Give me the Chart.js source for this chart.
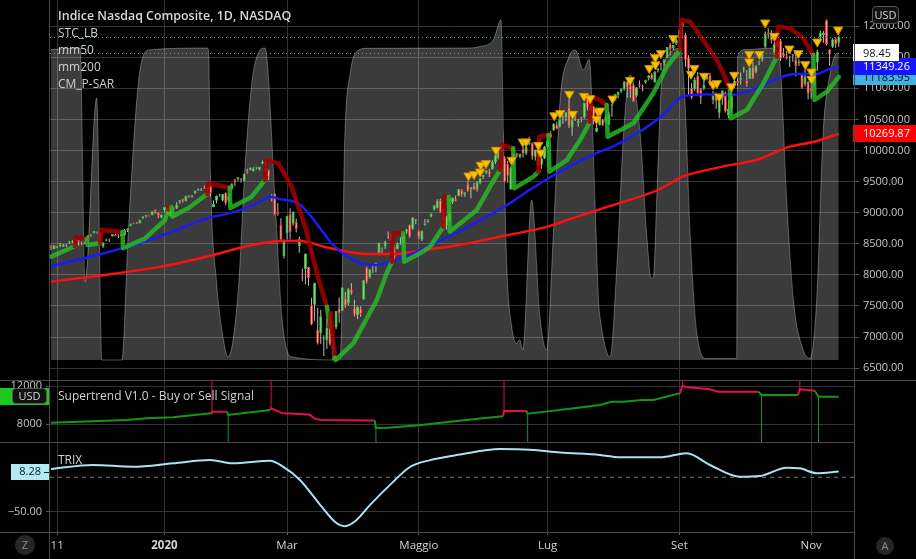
<!DOCTYPE html>
<html><head><meta charset="utf-8">
<script src="https://cdn.jsdelivr.net/npm/chart.js@4.4.1/dist/chart.umd.min.js"></script>
<style>
html,body{margin:0;padding:0;background:#000;width:916px;height:559px;overflow:hidden;font-family:'Open Sans','Liberation Sans',sans-serif;}
canvas{position:absolute;left:0;}
#c1{top:0} #c2{top:380px} #c3{top:442px}
.ln{position:absolute;background:#4a4a4a;}
.tx{position:absolute;color:#cfcfcf;font-size:12px;white-space:nowrap;line-height:1;}
.badge{position:absolute;border:1px solid #555;border-radius:4px;background:#111;color:#d1d4dc;font-size:11px;line-height:15px;text-align:center;box-sizing:border-box;}
.circ{position:absolute;border-radius:50%;background:#262629;color:#8c8c8c;font-size:11px;text-align:center;}
</style></head><body>
<canvas id="c1" width="916" height="380"></canvas>
<canvas id="c2" width="916" height="62"></canvas>
<canvas id="c3" width="916" height="117"></canvas>
<div class="ln" style="left:0;top:380px;width:916px;height:1px"></div>
<div class="ln" style="left:0;top:442px;width:855px;height:1px"></div>
<div class="ln" style="left:0;top:532px;width:855px;height:1px"></div>
<div class="ln" style="left:49px;top:0;width:1px;height:559px"></div>
<div class="ln" style="left:854px;top:0;width:1px;height:559px"></div>
<div class="tx" style="left:58px;top:10px;font-size:12.4px;font-weight:600;color:#d8d8d8">Indice Nasdaq Composite, 1D, NASDAQ</div>
<div class="tx" style="left:58px;top:27px">STC_LB</div>
<div class="tx" style="left:58px;top:44px">mm50</div>
<div class="tx" style="left:58px;top:61px">mm200</div>
<div class="tx" style="left:58px;top:78px">CM_P-SAR</div>
<div class="tx" style="left:58px;top:390px">Supertrend V1.0 - Buy or Sell Signal</div>
<div class="tx" style="left:58px;top:454px">TRIX</div>
<div class="badge" style="left:872px;top:6px;width:27px;height:18px">USD</div>
<div class="badge" style="left:12px;top:388px;width:35px;height:16px;line-height:14px">USD</div>
<div class="circ" style="left:15px;top:535px;width:20px;height:20px;line-height:20px">Z</div>
<div class="circ" style="left:876px;top:537px;width:18px;height:18px;line-height:18px">A</div>
<script>
// ---------- categories (trading days) ----------
const monthDays = [
 ['2019-11','07 08 11 12 13 14 15 18 19 20 21 22 25 26 27 29'],
 ['2019-12','02 03 04 05 06 09 10 11 12 13 16 17 18 19 20 23 24 26 27 30 31'],
 ['2020-01','02 03 06 07 08 09 10 13 14 15 16 17 21 22 23 24 27 28 29 30 31'],
 ['2020-02','03 04 05 06 07 10 11 12 13 14 18 19 20 21 24 25 26 27 28'],
 ['2020-03','02 03 04 05 06 09 10 11 12 13 16 17 18 19 20 23 24 25 26 27 30 31'],
 ['2020-04','01 02 03 06 07 08 09 13 14 15 16 17 20 21 22 23 24 27 28 29 30'],
 ['2020-05','01 04 05 06 07 08 11 12 13 14 15 18 19 20 21 22 26 27 28 29'],
 ['2020-06','01 02 03 04 05 08 09 10 11 12 15 16 17 18 19 22 23 24 25 26 29 30'],
 ['2020-07','01 02 06 07 08 09 10 13 14 15 16 17 20 21 22 23 24 27 28 29 30 31'],
 ['2020-08','03 04 05 06 07 10 11 12 13 14 17 18 19 20 21 24 25 26 27 28 31'],
 ['2020-09','01 02 03 04 08 09 10 11 14 15 16 17 18 21 22 23 24 25 28 29 30'],
 ['2020-10','01 02 05 06 07 08 09 12 13 14 15 16 19 20 21 22 23 26 27 28 29 30'],
 ['2020-11','02 03 04 05 06 09 10 11 12 13']
];
const dates = monthDays.flatMap(([m, d]) => d.split(' ').map(x => m + '-' + x));
const tickDates = ['2019-11-11','2020-01-02','2020-03-02','2020-05-01','2020-07-01','2020-09-01','2020-11-02'];
const tickLabels = ['11','2020','Mar','Maggio','Lug','Set','Nov'];
const priceTicks = [6500,7000,7500,8000,8500,9000,9500,10000,10500,11000,11500,12000];
const stTicks = [8000,12000];
const trixTicks = [-50,0];

// ---------- OHLC ----------
const open = [8471,8418,8445,8464,8451,8471,8519,8533,8577,8552,8525,8533,8559,8635,8668,8691,
8683,8452,8550,8582,8619,8644,8623,8624,8642,8720,8788,8834,8838,8831,8916,8946,8954,8960,9050,9005,8918,
9039,8977,8943,9077,9069,9177,9226,9188,9258,9248,9311,9375,9354,9414,9370,9431,9089,9191,9291,9196,9324,
9191,9386,9541,9536,9530,9507,9660,9687,9666,9725,9691,9790,9809,9682,9237,9303,9011,8806,8301,
8667,8974,8823,8852,8462,7958,8094,8130,7513,7520,7120,7066,6973,6951,7229,6803,7154,7458,7423,7625,7547,7767,
7459,7356,7460,7604,8121,7966,8143,8139,8335,8400,8461,8685,8566,8461,8413,8493,8515,8698,8810,8737,8870,
8709,8564,8803,8851,8936,9050,9076,9208,9025,8795,8880,9174,9223,9269,9365,9287,9465,9380,9438,9374,
9472,9569,9640,9672,9702,9812,9868,10013,9882,9789,9373,9948,9949,9893,10028,9950,10100,10119,9899,9985,9771,9874,
10052,10274,10327,10416,10386,10542,10528,10700,10366,10600,10440,10534,10539,10845,10661,10712,10300,10405,10503,10448,10423,10720,
10805,10890,10958,10983,11111,11036,11047,10880,11064,11031,11092,11162,11221,11098,11291,11409,11407,11502,11703,11648,11716,
11803,11985,11861,11490,11009,10983,11203,10987,10996,11145,11212,10812,10900,10608,10845,10934,10569,10676,11051,11120,11136,
11313,11134,11151,11345,11264,11424,11461,11668,11898,11895,11569,11743,11765,11560,11510,11508,11529,11469,11409,11230,11064,11103,
11011,11056,11414,11821,11858,12094,11624,11669,11791,11734];
const high = [8483,8476,8466,8512,8498,8491,8541,8559,8580,8565,8536,8535,8633,8648,8706,8696,
8684,8525,8583,8582,8658,8668,8652,8660,8738,8751,8827,8837,8850,8887,8946,8948,8956,9022,9052,9007,8973,
9093,9065,9072,9092,9168,9204,9228,9274,9284,9290,9357,9389,9397,9439,9411,9451,9196,9281,9305,9300,9325,
9304,9473,9541,9573,9556,9629,9707,9726,9732,9732,9739,9838,9817,9694,9300,9311,9155,8911,8571,
8952,9070,9019,8903,8618,8104,8344,8130,7633,7875,7472,7440,7030,7300,7339,6995,7421,7637,7798,7723,7787,7866,
7599,7497,7497,7914,8136,8091,8171,8196,8516,8439,8551,8699,8666,8487,8520,8606,8636,8739,8810,8932,8900,
8717,8712,8898,8899,8993,9123,9218,9229,9054,8951,9022,9248,9276,9382,9381,9327,9502,9414,9478,9505,
9556,9610,9685,9708,9845,9925,9980,10086,9907,9836,9756,9953,9964,9953,10055,10057,10222,10130,10017,9995,9878,10071,
10179,10310,10434,10467,10493,10577,10618,10824,10494,10640,10506,10541,10767,10866,10726,10712,10424,10540,10508,10563,10624,10748,
10913,10944,10998,11116,11121,11054,11067,11023,11127,11058,11136,11211,11248,11279,11328,11409,11467,11666,11729,11696,11794,
11940,12074,11895,11531,11083,11179,11262,11005,11122,11245,11245,10957,10931,10803,10964,10943,10810,10936,11129,11156,11256,
11345,11295,11334,11422,11369,11447,11580,11914,11967,11939,11743,11762,11792,11647,11600,11525,11550,11556,11466,11239,11305,11118,
11057,11222,11620,11930,11921,12108,11624,11803,11818,11849];
const low = [8400,8411,8433,8445,8447,8448,8500,8513,8536,8470,8477,8491,8557,8615,8664,8662,
8551,8435,8541,8527,8616,8621,8594,8612,8620,8690,8787,8815,8821,8827,8899,8921,8938,8958,8985,8916,8912,
9011,8977,8943,9043,9059,9144,9158,9179,9238,9242,9300,9348,9347,9380,9332,9260,9088,9152,9258,9181,9122,
9177,9367,9426,9507,9484,9506,9627,9677,9662,9694,9678,9784,9662,9526,9180,8957,8949,8566,8264,
8571,8575,8789,8687,8356,7901,7850,7824,7194,7260,6882,6894,6694,6809,6861,6631,7126,7232,7420,7475,7512,7682,
7330,7286,7329,7602,7863,7944,8032,8044,8314,8318,8415,8577,8554,8217,8413,8483,8451,8663,8592,8726,8816,
8583,8546,8791,8837,8927,9034,9069,9002,8787,8727,8853,9138,9181,9266,9258,9256,9338,9234,9359,9336,
9456,9542,9620,9575,9689,9782,9851,9978,9486,9480,9373,9764,9890,9877,9887,9929,10085,9850,9840,9751,9705,9864,
10046,10199,10315,10343,10369,10428,10465,10362,10236,10474,10383,10456,10512,10646,10631,10418,10292,10403,10400,10448,10410,10543,
10801,10843,10924,10961,10850,10850,10779,10856,11015,10952,11074,11126,11137,11087,11253,11285,11356,11487,11528,11616,11697,
11750,11807,11348,10876,10828,10958,10889,10749,10972,11130,11050,10743,10670,10520,10736,10612,10519,10615,11008,11041,11062,
11249,11024,11151,11145,11242,11369,11427,11645,11799,11721,11534,11670,11440,11494,11462,11342,11428,11190,11360,10993,11029,10822,
10831,11016,11283,11787,11733,11688,11362,11649,11651,11670];
const close = [8435,8475,8464,8486,8482,8479,8541,8550,8571,8527,8506,8520,8632,8648,8705,8665,
8568,8521,8567,8571,8657,8622,8616,8654,8717,8735,8814,8823,8828,8887,8925,8946,8953,9022,9007,8946,8973,
9092,9021,9071,9069,9129,9203,9179,9274,9251,9259,9357,9389,9371,9384,9402,9315,9139,9270,9275,9299,9151,
9273,9468,9509,9572,9521,9628,9639,9726,9712,9731,9733,9817,9751,9577,9221,8966,8981,8566,8567,
8952,8684,9018,8739,8576,7951,8344,7952,7202,7875,6905,7335,6990,7151,6880,6861,7418,7384,7798,7502,7774,7700,
7361,7487,7373,7913,7887,8091,8154,8192,8516,8393,8532,8650,8561,8263,8495,8495,8635,8730,8608,8915,8890,
8605,8711,8809,8854,8980,9121,9192,9003,8863,8944,9015,9235,9185,9376,9285,9325,9340,9412,9369,9490,
9552,9608,9683,9616,9814,9925,9954,10020,9493,9589,9726,9896,9911,9943,9946,10056,10131,9909,10017,9757,9874,10059,
10155,10208,10434,10344,10493,10548,10617,10391,10489,10550,10474,10503,10767,10680,10706,10461,10363,10536,10402,10543,10588,10745,
10903,10941,10998,11108,11011,10968,10783,11012,11043,11019,11130,11211,11146,11265,11312,11380,11466,11665,11625,11696,11775,
11940,12056,11458,11313,10848,11142,10920,10854,11057,11190,11050,10910,10793,10779,10964,10633,10672,10914,11118,11085,11168,
11327,11075,11332,11155,11365,11421,11580,11876,11864,11769,11714,11672,11479,11516,11485,11506,11548,11359,11431,11005,11186,10912,
10958,11161,11591,11891,11895,11714,11554,11786,11710,11829.29];

// ---------- indicators (x = bar index) ----------
const mm50Idx = [0,11,25,38,51,59,66,72,74,81,84,89,92,101,106,114,124,134,147,157,166,179,182,192,199,206,214,222,230,237,243,250,253,257];
const mm50Val = [8143,8267,8453,8669,8910,9000,9124,9257,9225,9140,8990,8669,8481,8187,8159,8267,8481,8722,9071,9392,9659,9981,10035,10302,10543,10865,10903,10892,11000,11161,11230,11230,11294,11349.26];
const mm200Idx = [0,20,36,53,63,72,81,89,94,103,112,120,133,149,162,170,179,187,198,206,219,230,241,249,257];
const mm200Val = [7891,8015,8132,8320,8453,8534,8550,8453,8400,8336,8336,8389,8481,8641,8775,8910,9055,9177,9365,9579,9740,9847,10061,10141,10269.87];
const psarIdx = [0,7.8,8,11.6,11.9,16,16.5,23.3,23.5,30.7,37.2,38.3,38.5,39.3,39.6,45,51,51.4,58.3,58.5,65.5,69.8,70.2,74.2,78.5,82.9,87.2,90,90.2,91,91.2,92.6,92.8,98.6,101.9,106.3,109.5,111.2,111.5,114.9,115.2,120.4,123.7,128,128.3,129.8,130.1,138.9,143.2,146.5,147,150.8,151.1,157.4,159,159.3,162.3,162.6,168.3,172.6,175.9,176.2,179.1,181.3,181.6,190,196.5,200.9,205.2,205.6,208.5,212.8,217.2,219.3,221.5,221.8,227,232.4,236.8,237.2,241.1,245.4,248.7,249.1,253.1,257];
const psarVal = [8293,8460,8605,8577,8481,8508,8722,8690,8428,8588,8883,9050,9097,9092,8940,9080,9300,9470,9400,9076,9257,9526,9847,9794,9418,8775,7950,7489,7430,7170,7390,6670,6631,6900,7195,7597,8026,8212,8669,8669,8212,8347,8453,8775,9257,9257,8695,9043,9418,9686,10088,10035,9392,9579,9659,10222,10249,9659,9847,10169,10463,10865,10812,10731,10222,10437,10920,11347,11616,12098,12071,11777,11455,11241,11000,10518,10651,11080,11508,11990,11965,11804,11535,10812,10945,11183.95];
const psarDir = [1,1,-1,-1,1,1,-1,-1,1,1,1,1,-1,-1,1,1,1,-1,-1,1,1,1,-1,-1,-1,-1,-1,-1,1,1,-1,-1,1,1,1,1,1,1,-1,-1,1,1,1,1,-1,-1,1,1,1,1,-1,-1,1,1,1,-1,-1,1,1,1,1,-1,-1,-1,1,1,1,1,1,-1,-1,-1,-1,-1,-1,1,1,1,1,-1,-1,-1,-1,1,1,1];
const triIdx = [136.2,138,140,140.2,141.9,145.2,150.3,153.9,155,159,159.8,164.2,166.1,169.1,170.2,173.9,175.9,178,178.5,179.2,183.2,188.9,195.2,197.1,197.2,199,203,208.8,209.9,213.1,216,217.2,218,222,222.9,227.8,227.8,231.1,233,236,240.9,243.8,246.1,248.1,248.1,250,256.8];
const triVal = [9595,9617,9659,9767,9794,10008,9847,10141,10141,10088,9965,10563,10598,10908,10587,10876,10839,10506,10624,10640,10833,11133,11322,11498,11383,11563,11804,11230,11322,11198,11061,11080,10865,11029,11214,11551,11428,11551,12055,11841,11637,11563,11386,11267,11150,11749,11942];
const stcIdx = [0,9.5,11.1,14.9,16.6,23.1,25.2,28.5,31.7,51,51.4,52,54,56,57.8,61.1,63.3,65.5,67.6,69.8,73.1,75.3,78.5,94.3,95.9,97.6,99.7,103,135.6,140,144.3,146.8,147.6,148.7,150.3,151.9,152.9,153.9,156.8,159.5,161.7,163.9,166.1,168.8,171,173.7,175.6,177.5,178.6,179.1,182.4,184.6,186.8,188.9,192.2,194.3,195.8,196.6,197.6,199.2,201.9,205.2,206.8,208.5,210.7,213.9,223.7,224,226.4,235.7,237.8,240,242.2,245.4,247.6,249.8,251.9,254.2,256.3,257];
const stcVal = [99.5,100,25,84,0,0,40.6,88.7,99.4,100,99,60,25,8,1,22.4,62,88.7,98.3,100,51,13.9,1,0,72.6,91.9,98.8,99.9,100,100.5,102.6,109,72.6,29.9,10.7,5.3,6.5,3.2,51.3,13.9,3.2,40.6,83.3,96.7,99.4,93,96.4,50,19.2,13.9,1,29.9,72.6,91.3,72.6,40.6,26.2,27,51.3,88.7,98.3,99.9,83.3,40.6,8.5,0.5,0.5,97,99.5,100,95,51.3,19.2,3.2,0.5,19.2,72.6,91.9,98.3,98.45];
const stIdx = [0,24.7,31.2,39.8,52.2,52.5,57.4,57.8,71.5,71.8,75.7,81.2,84.5,86,88,105.6,106,110,120,131,140,147.5,147.8,155.2,155.5,162,170,179.1,182.9,186.7,192.7,196.5,205.2,206,207.4,214.5,217.7,230.8,231.8,243.7,244.3,249.2,250.4,257];
const stVal = [8167,8449,8626,8730,9148,9315,9315,8971,9493,9670,9148,9075,9000,8600,8449,8400,7614,7650,7900,8300,8600,8850,9400,9385,9100,9350,9650,10015,10360,10360,10537,10537,11235,12050,11862,11685,11403,11403,11058,11058,11654,11508,10881,10881];
const stDir = [1,1,1,1,1,-1,-1,1,1,-1,-1,-1,-1,-1,-1,-1,1,1,1,1,1,1,-1,-1,1,1,1,1,1,1,1,1,1,-1,-1,-1,-1,-1,1,1,-1,-1,1,1];
const trixIdx = [0,13.7,26.8,39.8,51.9,59.4,71.5,75.7,81.2,87.8,92.7,95.9,99.2,104.1,110.6,117.1,123.7,133.4,146.5,156.3,166.1,179.1,185.6,198.7,207.4,215,224.8,231.3,240,244.4,249.8,257];
const trixVal = [12,18,15.4,20.3,25.1,20.3,24.1,15.4,-3.9,-40,-65,-71,-64,-40,-11,15,25,33,41,40,36,32.4,29,29,34.9,17.9,0.9,1.9,14,13,5.8,8.28];

// ---------- styles ----------
const FONT = "'Open Sans','Liberation Sans',sans-serif";
Chart.defaults.font.family = FONT;
Chart.defaults.animation = false;
const GRID = '#333333';
const X_MIN = -0.33, X_MAX = 262.3;
const UP_FILL = '#79dc79', UP_BORDER = '#3cc23c', DN_FILL = '#f6a88e', DN_BORDER = '#ee3030';
const PSAR_G = 'rgba(38,190,38,0.82)', PSAR_R = 'rgba(165,0,0,0.85)';
const ST_G = '#119a11', ST_R = '#e0104a';
const tickIdx = tickDates.map(d => dates.indexOf(d));
const pts = (xs, ys) => xs.map((x, i) => ({x, y: ys[i]}));
const last = a => a[a.length - 1];

function xAxis(showLabels) {
  return {
    type: 'linear', min: X_MIN, max: X_MAX, offset: false,
    grid: { color: GRID, drawTicks: showLabels, tickLength: 3, tickColor: '#666', offset: false },
    border: { display: false },
    ticks: {
      display: showLabels, autoSkip: false, maxRotation: 0, padding: 4, color: '#d1d4dc',
      font: c => ({ size: 11.5, weight: (c.tick && c.tick.label === '2020') ? 'bold' : 'normal' }),
      callback: v => { const k = tickIdx.indexOf(v); return k >= 0 ? tickLabels[k] : ''; }
    },
    afterBuildTicks: s => { s.ticks = tickIdx.map(v => ({ value: v })); },
    afterFit: s => { s.height = showLabels ? 27 : 0; s.paddingLeft = 0; s.paddingRight = 0; }
  };
}
function yAxis(pos, min, max, ticks, width, fmt, gridColor) {
  return {
    position: pos, min, max,
    grid: { color: gridColor || GRID, tickLength: 4, tickColor: '#555' },
    border: { display: false },
    ticks: { color: '#c4c4c4', font: { size: 11 }, padding: 4, autoSkip: false, callback: fmt },
    afterBuildTicks: s => { s.ticks = ticks.map(v => ({ value: v })); },
    afterFit: s => { s.width = width; s.paddingTop = 0; s.paddingBottom = 0; }
  };
}
const baseOpts = (pad) => ({
  responsive: false, animation: false, events: [],
  layout: { padding: pad, autoPadding: false },
  plugins: { legend: { display: false }, tooltip: { enabled: false } }
});

function box(ctx, y, x0, x1, bg, fg, text, align, tx) {
  ctx.fillStyle = bg;
  ctx.fillRect(x0, Math.round(y - 8.5), x1 - x0, 17);
  ctx.fillStyle = fg;
  ctx.font = '11px ' + FONT;
  ctx.textBaseline = 'middle';
  ctx.textAlign = align || 'left';
  ctx.fillText(text, tx, y + 0.5);
}

// ---------- main pane ----------
const mainOverlay = {
  id: 'mainOverlay',
  afterDatasetsDraw(chart) {
    const { ctx, chartArea: a, scales } = chart;
    ctx.save();
    ctx.lineWidth = 1;
    ctx.setLineDash([1, 3]);
    const yp = Math.round(scales.y.getPixelForValue(last(close))) + 0.5;
    ctx.strokeStyle = '#3cc23c';
    ctx.beginPath(); ctx.moveTo(a.left, yp); ctx.lineTo(a.right, yp); ctx.stroke();
    const ys = Math.round(scales.stc.getPixelForValue(last(stcVal))) + 0.5;
    ctx.strokeStyle = '#8a8a8a';
    ctx.beginPath(); ctx.moveTo(a.left, ys); ctx.lineTo(a.right, ys); ctx.stroke();
    ctx.restore();
  },
  afterDraw(chart) {
    const { ctx, scales } = chart;
    ctx.save();
    box(ctx, scales.y.getPixelForValue(last(psarVal)), 853, 916, '#3fb1e3', '#0a0a0a', last(psarVal).toFixed(2), 'left', 863);
    box(ctx, scales.y.getPixelForValue(last(mm50Val)), 853, 916, '#1414ff', '#ffffff', last(mm50Val).toFixed(2), 'left', 863);
    box(ctx, scales.y.getPixelForValue(last(mm200Val)), 853, 916, '#ff0000', '#ffffff', last(mm200Val).toFixed(2), 'left', 863);
    box(ctx, scales.stc.getPixelForValue(last(stcVal)), 853, 899, '#ffffff', '#131313', last(stcVal).toFixed(2), 'left', 863);
    ctx.restore();
  }
};

new Chart(document.getElementById('c1'), {
  type: 'bar',
  data: { datasets: [
    { type: 'line', label: 'STC_LB', yAxisID: 'stc', data: pts(stcIdx, stcVal), fill: 'origin',
      backgroundColor: 'rgba(255,255,255,0.23)', borderColor: 'rgba(255,255,255,0.3)', borderWidth: 1,
      pointRadius: 0, cubicInterpolationMode: 'monotone', order: 10 },
    { type: 'bar', label: 'wick', data: close.map((c, i) => ({ x: i, y: [low[i], high[i]] })),
      backgroundColor: '#bcbcbc', barThickness: 1, grouped: false, inflateAmount: 0, order: 9 },
    { type: 'bar', label: 'body', data: close.map((c, i) => ({ x: i, y: [open[i], c] })),
      backgroundColor: close.map((c, i) => c >= open[i] ? UP_FILL : DN_FILL),
      borderColor: close.map((c, i) => c >= open[i] ? UP_BORDER : DN_BORDER),
      borderWidth: 1, borderSkipped: false, barThickness: 3, minBarLength: 1, grouped: false, inflateAmount: 0, order: 8 },
    { type: 'line', label: 'mm200', data: pts(mm200Idx, mm200Val), borderColor: '#ff1010', borderWidth: 2.4,
      pointRadius: 0, cubicInterpolationMode: 'monotone', order: 6 },
    { type: 'line', label: 'mm50', data: pts(mm50Idx, mm50Val), borderColor: '#1a1aff', borderWidth: 2.4,
      pointRadius: 0, cubicInterpolationMode: 'monotone', order: 5 },
    { type: 'line', label: 'CM_P-SAR', data: pts(psarIdx, psarVal), borderColor: PSAR_G, borderWidth: 4.5,
      borderCapStyle: 'round', borderJoinStyle: 'round', pointRadius: 0, tension: 0,
      segment: { borderColor: c => psarDir[c.p1DataIndex] > 0 ? PSAR_G : PSAR_R }, order: 4 },
    { type: 'line', label: 'signal', data: pts(triIdx, triVal), showLine: false, pointStyle: 'triangle',
      rotation: 180, pointRadius: 5.3, backgroundColor: '#f7c200', borderColor: '#d09000', borderWidth: 1, order: 1 }
  ]},
  options: Object.assign(baseOpts({ left: 50, right: 0, top: 0, bottom: 0 }), {
    scales: {
      x: xAxis(false),
      y: yAxis('right', 6310, 12420, priceTicks, 61, v => Number(v).toFixed(2)),
      stc: { axis: 'y', type: 'linear', display: false, min: -6.41, max: 115.4 }
    }
  }),
  plugins: [mainOverlay]
});

// ---------- Supertrend pane ----------
const ST_MIN = 6151, ST_MAX = 12627;
const flips = stIdx.map((x, i) => i > 0 && stDir[i] !== stDir[i - 1] ? i : -1).filter(i => i >= 0);
const stOverlay = {
  id: 'stOverlay',
  afterDraw(chart) {
    const { ctx, scales } = chart;
    const y = scales.y.getPixelForValue(last(stVal));
    ctx.save();
    ctx.fillStyle = '#1fc81f';
    ctx.fillRect(0, Math.round(y - 8.5), 50, 17);
    ctx.restore();
  }
};
new Chart(document.getElementById('c2'), {
  type: 'bar',
  data: { datasets: [
    { type: 'bar', label: 'flip', data: flips.map(i => ({ x: stIdx[i], y: stDir[i] < 0 ? [stVal[i], ST_MAX] : [ST_MIN, stVal[i]] })),
      backgroundColor: flips.map(i => stDir[i] < 0 ? ST_R : ST_G), barThickness: 1, grouped: false, inflateAmount: 0, order: 3 },
    { type: 'line', label: 'Supertrend', data: pts(stIdx, stVal), borderColor: ST_G, borderWidth: 2, pointRadius: 0,
      segment: { borderColor: c => stDir[c.p1DataIndex] > 0 ? ST_G : ST_R }, order: 1 }
  ]},
  options: Object.assign(baseOpts({ left: 0, right: 61, top: 0, bottom: 0 }), {
    scales: {
      x: xAxis(false),
      y: yAxis('left', ST_MIN, ST_MAX, stTicks, 50, v => String(v))
    }
  }),
  plugins: [stOverlay]
});

// ---------- TRIX pane ----------
const trixOverlay = {
  id: 'trixOverlay',
  afterDraw(chart) {
    const { ctx, scales } = chart;
    const y = scales.y.getPixelForValue(last(trixVal));
    ctx.save();
    ctx.fillStyle = '#b2ebf2';
    ctx.fillRect(11, Math.round(y - 8), 39, 16);
    ctx.fillStyle = '#131722';
    ctx.font = '11px ' + FONT;
    ctx.textBaseline = 'middle';
    ctx.textAlign = 'right';
    ctx.fillText(last(trixVal).toFixed(2), 41, y + 0.5);
    ctx.fillRect(44, Math.round(y), 6, 1);
    ctx.restore();
  }
};
new Chart(document.getElementById('c3'), {
  type: 'line',
  data: { datasets: [
    { label: 'zero', data: [{ x: X_MIN, y: 0 }, { x: X_MAX, y: 0 }], borderColor: '#787878', borderWidth: 1,
      borderDash: [4, 4], pointRadius: 0, order: 2 },
    { label: 'TRIX', data: pts(trixIdx, trixVal), borderColor: '#a9e5f0', borderWidth: 2, pointRadius: 0,
      cubicInterpolationMode: 'monotone', order: 1 }
  ]},
  options: Object.assign(baseOpts({ left: 0, right: 61, top: 0, bottom: 0 }), {
    scales: {
      x: xAxis(true),
      y: Object.assign(yAxis('left', -79.5, 51.3, trixTicks, 50, v => Number(v).toFixed(2).replace('-', '\u2212')),
        { grid: { color: c => (c.tick && c.tick.value === 0) ? 'rgba(0,0,0,0)' : GRID, tickLength: 4, tickColor: '#555' } })
    }
  }),
  plugins: [trixOverlay]
});
</script>
</body></html>
